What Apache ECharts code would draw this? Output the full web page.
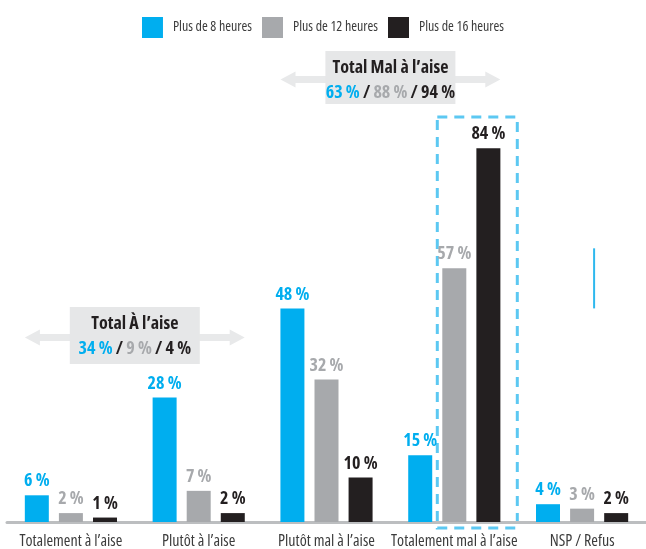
<!DOCTYPE html>
<html>
<head>
<meta charset="utf-8">
<script src="https://cdn.jsdelivr.net/npm/echarts@6/dist/echarts.min.js"></script>
<style>
html,body{margin:0;padding:0;background:#fff;}
#c{width:646px;height:549px;}
</style>
</head>
<body>
<div id="c"></div>
<script>
const categories = ["Totalement à l’aise", "Plutôt à l’aise", "Plutôt mal à l’aise", "Totalement mal à l’aise", "NSP / Refus"];
const seriesNames = ["Plus de 8 heures", "Plus de 12 heures", "Plus de 16 heures"];
const plus8 = [6, 28, 48, 15, 4];
const plus12 = [2, 7, 32, 57, 3];
const plus16 = [1, 2, 10, 84, 2];
const totalAise = ["34 %", "9 %", "4 %"];
const totalMal = ["63 %", "88 %", "94 %"];
const colors = ["#00AEEF", "#A7A9AC", "#231F20"];

const FONT = "'Open Sans', 'Roboto Condensed', sans-serif";
const REG = 'condensed';
const BOLD = 'bold condensed';

const chart = echarts.init(document.getElementById('c'));

function mkSeries(name, data, color) {
  return {
    name: name,
    type: 'bar',
    data: data,
    barWidth: 24,
    barGap: '42%',
    itemStyle: { color: color },
    label: {
      show: true,
      position: 'top',
      distance: 5,
      formatter: '{c} %',
      color: color,
      fontFamily: FONT,
      fontWeight: BOLD,
      fontSize: 18
    },
    emphasis: { disabled: true }
  };
}

chart.setOption({
  animation: false,
  color: colors,
  legend: {
    top: 12,
    left: 'center',
    itemWidth: 21,
    itemHeight: 21,
    itemGap: 10,
    icon: 'rect',
    textStyle: { fontFamily: FONT, fontWeight: REG, fontSize: 14, color: '#3C3C3C', padding: [0, 0, 0, 5] },
    data: seriesNames
  },
  grid: { left: 7, right: -4, top: 77, bottom: 27 },
  xAxis: {
    type: 'category',
    data: categories,
    axisLine: { lineStyle: { color: '#BCBEC0', width: 3 } },
    axisTick: { show: false },
    axisLabel: { fontFamily: FONT, fontWeight: REG, fontSize: 16, color: '#3C3C3C', margin: 11, interval: 0 }
  },
  yAxis: {
    type: 'value',
    min: 0,
    max: 100,
    show: false,
    splitLine: { show: false }
  },
  series: [
    mkSeries(seriesNames[0], plus8, colors[0]),
    mkSeries(seriesNames[1], plus12, colors[1]),
    mkSeries(seriesNames[2], plus16, colors[2])
  ]
});

function arrowPoints(l, r, cy) {
  const hl = 15, hh = 8, sh = 3.5;
  return [[l, cy], [l + hl, cy - hh], [l + hl, cy - sh], [r - hl, cy - sh], [r - hl, cy - hh], [r, cy],
          [r - hl, cy + hh], [r - hl, cy + sh], [l + hl, cy + sh], [l + hl, cy + hh]];
}

function totalBlock(c1, c2, title, vals, boxTop, boxH, boxW) {
  const x1 = chart.convertToPixel({ xAxisIndex: 0 }, c1);
  const x2 = chart.convertToPixel({ xAxisIndex: 0 }, c2);
  const cx = (x1 + x2) / 2;
  const l = x1 - 46, r = x2 + 46;
  const cy = boxTop + boxH / 2 + 2;
  const bf = BOLD + ' 18px ' + FONT;
  return [
    { type: 'polygon', shape: { points: arrowPoints(l, r, cy) }, style: { fill: '#E8E9EA' }, silent: true },
    { type: 'rect', shape: { x: cx - boxW / 2, y: boxTop, width: boxW, height: boxH }, style: { fill: '#E6E7E8' }, silent: true },
    { type: 'text', x: cx, y: boxTop + 17, style: { text: title, fill: '#231F20', font: bf, align: 'center', verticalAlign: 'middle' }, silent: true },
    { type: 'text', x: cx, y: boxTop + 42, style: {
        text: '{a|' + vals[0] + '}{c| / }{b|' + vals[1] + '}{c| / ' + vals[2] + '}',
        align: 'center', verticalAlign: 'middle',
        rich: {
          a: { fill: colors[0], font: bf },
          b: { fill: colors[1], font: bf },
          c: { fill: colors[2], font: bf }
        }
      }, silent: true }
  ];
}

function draw() {
  const cx4 = chart.convertToPixel({ xAxisIndex: 0 }, 3);
  const y0 = chart.convertToPixel({ yAxisIndex: 0 }, 0);
  const yTop = chart.convertToPixel({ yAxisIndex: 0 }, 91);
  const cx5 = chart.convertToPixel({ xAxisIndex: 0 }, 4);
  const y48 = chart.convertToPixel({ yAxisIndex: 0 }, 48);
  const y61 = chart.convertToPixel({ yAxisIndex: 0 }, 61.5);
  const elements = []
    .concat(totalBlock(2, 3, 'Total Mal à l’aise', totalMal, 51, 53, 130))
    .concat(totalBlock(0, 1, 'Total À l’aise', totalAise, 307, 57, 130))
    .concat([
      { type: 'rect', shape: { x: cx4 - 17, y: yTop, width: 80, height: y0 - yTop + 6 },
        style: { fill: 'none', stroke: '#5CC8F2', lineWidth: 3, lineDash: [10, 7] }, silent: true },
      { type: 'line', shape: { x1: cx5 + 12, y1: y61, x2: cx5 + 12, y2: y48 },
        style: { stroke: '#2EB8EE', lineWidth: 2 }, silent: true }
    ]);
  chart.setOption({ graphic: { elements: elements } });
}
draw();
</script>
</body>
</html>
